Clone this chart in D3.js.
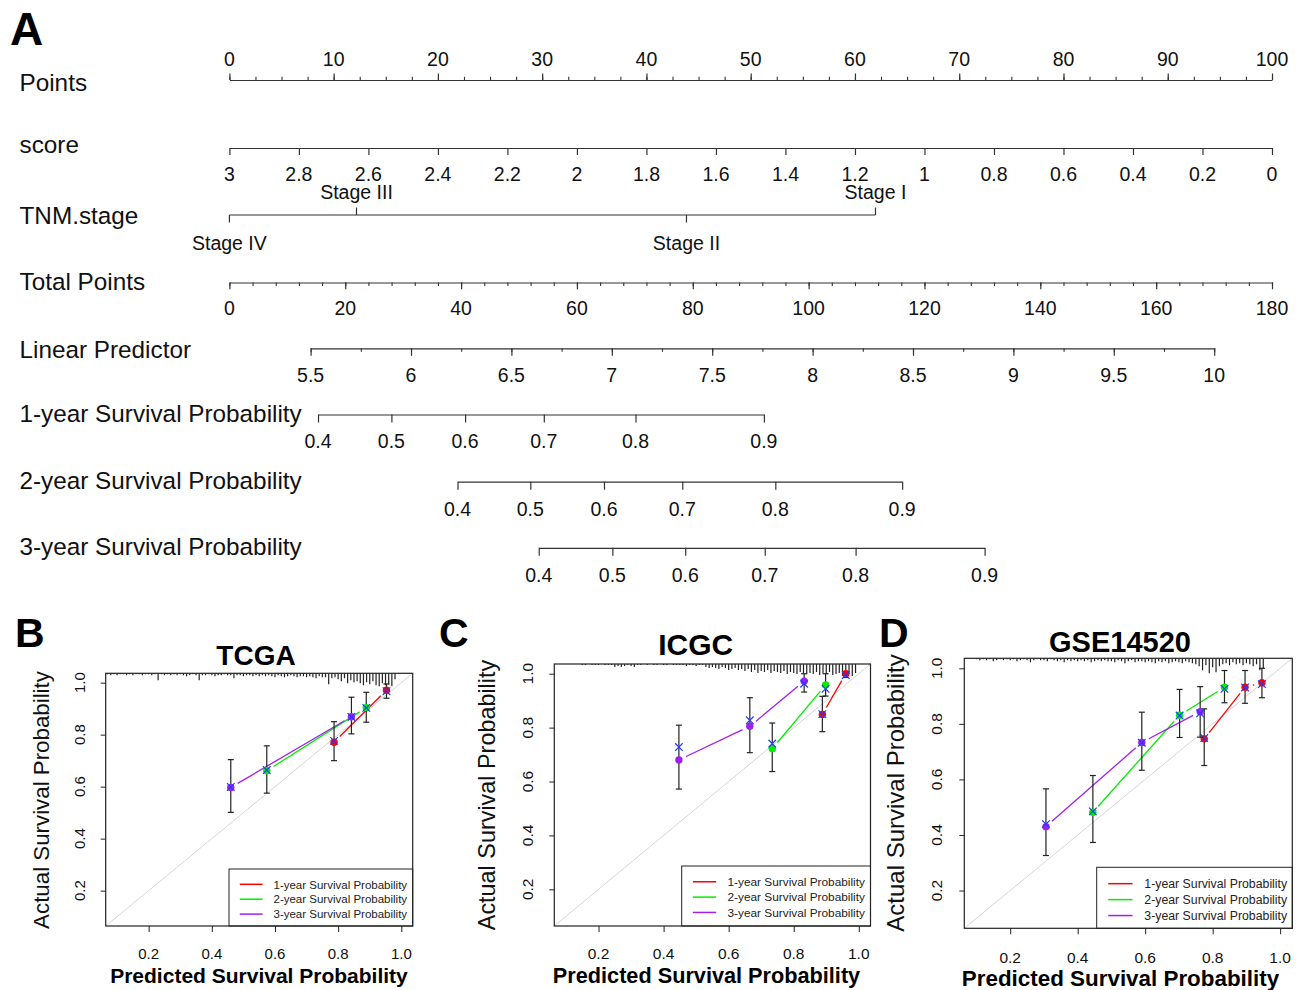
<!DOCTYPE html>
<html><head><meta charset="utf-8">
<script src="https://cdn.jsdelivr.net/npm/d3@7"></script>
<style>body{margin:0;background:#fff}</style>
</head><body><svg id="c" width="1303" height="990"></svg>
<script>
// ---------------- DATA ----------------
// Nomogram
const pointsLabels = [0,10,20,30,40,50,60,70,80,90,100];
const pointsMinor = d3.range(0, 100.001, 2.5);
const scoreLabels = [3,2.8,2.6,2.4,2.2,2,1.8,1.6,1.4,1.2,1,0.8,0.6,0.4,0.2,0];
const tnmStages = ["Stage IV","Stage III","Stage II","Stage I"];
const tnmPoints = [0, 12.19, 43.84, 61.97];
const tnmLabelAbove = [false, true, false, true];
const totalLabels = [0,20,40,60,80,100,120,140,160,180];
const totalMinor = d3.range(0, 180.001, 4);
const lpLabels = [5.5,6,6.5,7,7.5,8,8.5,9,9.5,10];
const lpMinor = d3.range(5.5, 10.001, 0.25);
const lpAnchor = [5.5, 10];
const lpAnchorTotal = [14.02, 170.02];
const survLabels = [0.4,0.5,0.6,0.7,0.8,0.9];
const surv1Total = [15.30, 27.97, 40.69, 54.28, 70.11, 92.28];
const surv2Total = [39.38, 51.95, 64.67, 78.19, 94.25, 116.15];
const surv3Total = [53.40, 66.12, 78.69, 92.42, 108.11, 130.38];
const rowLabels = ["Points","score","TNM.stage","Total Points","Linear Predictor",
  "1-year Survival Probability","2-year Survival Probability","3-year Survival Probability"];

// Calibration
const calTicks = [0.2,0.4,0.6,0.8,1.0];
const calLimits = [0.064, 1.036];
const seriesNames = ["1-year Survival Probability","2-year Survival Probability","3-year Survival Probability"];

const tcga1Pred=[0.787,0.953], tcga1Obs=[0.771,0.971], tcga1Lo=[0.700,0.940], tcga1Hi=[0.850,0.995], tcga1Corr=[0.776,0.967];
const tcga2Pred=[0.574,0.889], tcga2Obs=[0.661,0.904], tcga2Lo=[0.575,0.848], tcga2Hi=[0.757,0.963], tcga2Corr=[0.664,0.903];
const tcga3Pred=[0.460,0.842], tcga3Obs=[0.597,0.869], tcga3Lo=[0.501,0.803], tcga3Hi=[0.704,0.944], tcga3Corr=[0.599,0.868];

const icgc1Pred=[0.888,0.960], icgc1Obs=[0.849,1.000], icgc1Lo=[0.785,0.986], icgc1Hi=[0.916,1.000], icgc1Corr=[0.850,0.995];
const icgc2Pred=[0.734,0.898], icgc2Obs=[0.722,0.958], icgc2Lo=[0.637,0.917], icgc2Hi=[0.817,1.000], icgc2Corr=[0.741,0.944];
const icgc3Pred=[0.447,0.665,0.832], icgc3Obs=[0.680,0.805,0.972], icgc3Lo=[0.572,0.707,0.932], icgc3Hi=[0.809,0.911,1.000], icgc3Corr=[0.728,0.827,0.963];

const gse1Pred=[0.775,0.896,0.946], gse1Obs=[0.746,0.932,0.948], gse1Lo=[0.650,0.874,0.894], gse1Hi=[0.854,0.992,1.000], gse1Corr=[0.749,0.931,0.943];
const gse2Pred=[0.445,0.702,0.835], gse2Obs=[0.482,0.831,0.932], gse2Lo=[0.373,0.751,0.876], gse2Hi=[0.614,0.924,0.992], gse2Corr=[0.485,0.830,0.926];
const gse3Pred=[0.306,0.590,0.763], gse3Obs=[0.430,0.733,0.844], gse3Lo=[0.326,0.633,0.752], gse3Hi=[0.566,0.842,0.934], gse3Corr=[0.439,0.732,0.838];

// Rug (distribution of predicted probabilities), bins of 0.01
const tcgaRugStart = 0.07;
const tcgaRugCounts = [1,2,1,2,1,1,2,1,2,1, 1,2,1,1,2,1,7,1,2,1, 2,1,2,1,2,3,2,1,2,7, 2,2,1,2,3,2,2,1,2,2,
  5,2,2,3,2,2,3,2,3,2, 3,2,3,4,2,3,4,3,2,3, 4,3,3,4,3,4,5,3,4,4, 11,5,4,6,8,5,10,7,9,8, 10,12,9,11,8,12,13,10,12,11,13,6];
const icgcRugStart = 0.15;
const icgcRugCounts = [1,1,0,1,1,1,0,1,1,1, 3,2,3,2,1,2,3,1,1,0, 1,0,1,1,0,1,1,0,1,1, 1,1,2,1,1,2,1,1,3,4,
  3,4,5,3,4,6,5,4,6,5, 7,5,8,6,9,7,8,6,9,7, 8,9,7,10,8,9,10,8,9,10, 9,10,8,11,9,10,8,11,10,9, 12,11,10,12,9];
const gseRugStart = 0.10;
const gseRugCounts = [1,2,1,2,1,3,2,1,2,1, 2,1,3,2,1,2,4,2,1,2, 2,3,1,2,3,2,4,2,3,2, 3,2,3,2,4,3,2,3,2,3,
  3,4,2,3,5,3,2,4,3,3, 4,3,4,5,3,4,3,5,4,3, 4,5,3,4,5,6,8,12,7,15, 9,14,8,6,5,7,4,6,5,7, 5,6,8,6,12,10];

// ---------------- DRAW ----------------
const FONT = '"Liberation Sans", Arial, Helvetica, sans-serif';
const INK = "#333";
const seriesColors = ["#FF0000", "#00EE00", "#A020F0"];
const svg = d3.select("#c").attr("font-family", FONT);
svg.append("rect").attr("width",1303).attr("height",990).attr("fill","#fff");

// ---- Panel A: nomogram ----
svg.append("text").attr("x",10).attr("y",45).attr("font-size",46).attr("font-weight","bold").text("A");

const X0 = 229.4, X1 = 1272;
const xPts = d3.scaleLinear([0,100],[X0,X1]);
const xTot = d3.scaleLinear([0,180],[X0,X1]);
const xScore = d3.scaleLinear([3,0],[X0,X1]);
const lpToTotal = d3.scaleLinear(lpAnchor, lpAnchorTotal);
const xLP = d3.scaleLinear([lpLabels[0], lpLabels[lpLabels.length-1]],
  [xTot(lpToTotal(lpLabels[0])), xTot(lpToTotal(lpLabels[lpLabels.length-1]))]);
const xS1 = d3.scaleLinear(survLabels, surv1Total.map(xTot));
const xS2 = d3.scaleLinear(survLabels, surv2Total.map(xTot));
const xS3 = d3.scaleLinear(survLabels, surv3Total.map(xTot));

const rowBaselines = [90.5, 153, 223.5, 289.5, 358, 421.5, 489, 555];
svg.append("g").selectAll("text").data(rowLabels).join("text")
  .attr("x",19.5).attr("y",(d,i)=>rowBaselines[i]).attr("font-size",24.3).attr("fill","#111").text(d=>d);

function axisRow(scale, y, orient, major, majorLen, minor, minorLen, labels, labelBaseline) {
  const gen = orient === "top" ? d3.axisTop : d3.axisBottom;
  const g = svg.append("g").attr("transform",`translate(0,${y})`);
  g.call(gen(scale).tickValues(major).tickSize(majorLen).tickSizeOuter(0).tickFormat(""));
  if (minor) {
    const g2 = svg.append("g").attr("transform",`translate(0,${y})`);
    g2.call(gen(scale).tickValues(minor).tickSize(minorLen).tickSizeOuter(0).tickFormat(""));
    g2.select(".domain").remove();
    g2.selectAll("line").attr("stroke",INK).attr("stroke-width",1.1);
  }
  g.selectAll("path,line").attr("stroke",INK).attr("stroke-width",1.2);
  svg.append("g").selectAll("text").data(labels).join("text")
    .attr("x",d=>scale(d)).attr("y",labelBaseline).attr("text-anchor","middle")
    .attr("font-size",19.5).attr("fill","#111").text(d=>String(d));
}
axisRow(xPts, 80, "top", pointsLabels, 6.5, pointsMinor, 3.2, pointsLabels, 65.7);
axisRow(xScore, 148, "bottom", scoreLabels, 7, null, 0, scoreLabels, 181.2);
axisRow(xTot, 282.5, "bottom", totalLabels, 6.8, totalMinor, 3.6, totalLabels, 315);
axisRow(xLP, 348.3, "bottom", lpLabels, 7.5, lpMinor, 3.5, lpLabels, 381.7);
axisRow(xS1, 414.5, "bottom", survLabels, 8, null, 0, survLabels, 448.3);
axisRow(xS2, 481.7, "bottom", survLabels, 8, null, 0, survLabels, 515.7);
axisRow(xS3, 547.8, "bottom", survLabels, 8, null, 0, survLabels, 581.7);

// TNM stage row
const tnmY = 215;
const tg = svg.append("g");
tg.append("line").attr("x1",xPts(d3.min(tnmPoints))).attr("x2",xPts(d3.max(tnmPoints)))
  .attr("y1",tnmY).attr("y2",tnmY).attr("stroke",INK).attr("stroke-width",1.2);
tg.selectAll("line.t").data(tnmPoints).join("line").attr("class","t")
  .attr("x1",d=>xPts(d)).attr("x2",d=>xPts(d))
  .attr("y1",tnmY).attr("y2",(d,i)=>tnmLabelAbove[i] ? tnmY-7.5 : tnmY+7.5)
  .attr("stroke",INK).attr("stroke-width",1.2);
tg.selectAll("text").data(tnmStages).join("text")
  .attr("x",(d,i)=>xPts(tnmPoints[i])).attr("y",(d,i)=>tnmLabelAbove[i] ? 199 : 249.5)
  .attr("text-anchor","middle").attr("font-size",19.5).attr("fill","#111").text(d=>d);

// ---- Calibration panels ----
function makeSeries(pred, obs, lo, hi, corr) {
  return pred.map((p,i)=>({pred:p, obs:obs[i], lo:lo[i], hi:hi[i], corr:corr[i]}));
}
const panels = [
  { id:"B", title:"TCGA", box:[105.7,412.7,673.3,926],
    letter:[15,647], titlePos:[256,665,28], ylab:[48.5,800,22.3], xlab:[259,983,21],
    tickFont:15, xTickY:959, yTickX:85, legend:[229,869,1],
    series:[makeSeries(tcga1Pred,tcga1Obs,tcga1Lo,tcga1Hi,tcga1Corr),
            makeSeries(tcga2Pred,tcga2Obs,tcga2Lo,tcga2Hi,tcga2Corr),
            makeSeries(tcga3Pred,tcga3Obs,tcga3Lo,tcga3Hi,tcga3Corr)],
    rugStart:tcgaRugStart, rugCounts:tcgaRugCounts },
  { id:"C", title:"ICGC", box:[554.3,870.5,664,926],
    letter:[439,647], titlePos:[695.7,655,30], ylab:[495,795,23.4], xlab:[706.5,983,21.7],
    tickFont:15.5, xTickY:959, yTickX:533, legend:[681.7,866,1.03],
    series:[makeSeries(icgc1Pred,icgc1Obs,icgc1Lo,icgc1Hi,icgc1Corr),
            makeSeries(icgc2Pred,icgc2Obs,icgc2Lo,icgc2Hi,icgc2Corr),
            makeSeries(icgc3Pred,icgc3Obs,icgc3Lo,icgc3Hi,icgc3Corr)],
    rugStart:icgcRugStart, rugCounts:icgcRugCounts },
  { id:"D", title:"GSE14520", box:[964.3,1292.3,658.3,928.3],
    letter:[879,647], titlePos:[1120,652,29], ylab:[903.5,793,24], xlab:[1120.5,985.5,22.4],
    tickFont:15.5, xTickY:963, yTickX:941.7, legend:[1096.7,867.3,1.07],
    series:[makeSeries(gse1Pred,gse1Obs,gse1Lo,gse1Hi,gse1Corr),
            makeSeries(gse2Pred,gse2Obs,gse2Lo,gse2Hi,gse2Corr),
            makeSeries(gse3Pred,gse3Obs,gse3Lo,gse3Hi,gse3Corr)],
    rugStart:gseRugStart, rugCounts:gseRugCounts }
];

panels.forEach(p => {
  const [bx0,bx1,by0,by1] = p.box;
  const x = d3.scaleLinear(calLimits,[bx0,bx1]);
  const y = d3.scaleLinear(calLimits,[by1,by0]);
  const rugLen = d3.scaleLinear([0,1],[0,1]);
  const g = svg.append("g");
  const clipId = "clip" + p.id;
  svg.append("clipPath").attr("id",clipId).append("rect")
    .attr("x",bx0).attr("y",by0).attr("width",bx1-bx0).attr("height",by1-by0);
  const inner = g.append("g").attr("clip-path",`url(#${clipId})`);

  // diagonal reference line
  inner.append("line").attr("x1",x(calLimits[0])).attr("y1",y(calLimits[0]))
    .attr("x2",x(calLimits[1])).attr("y2",y(calLimits[1]))
    .attr("stroke","#d6d6d6").attr("stroke-width",1);

  // rug
  inner.selectAll("line.rug").data(p.rugCounts).join("line").attr("class","rug")
    .attr("x1",(d,i)=>x(p.rugStart + i*0.01)).attr("x2",(d,i)=>x(p.rugStart + i*0.01))
    .attr("y1",by0).attr("y2",d=>by0 + rugLen(d))
    .attr("stroke","#222").attr("stroke-width",1.2);

  // series
  p.series.forEach((s, si) => {
    const col = seriesColors[si];
    const gap = 8;
    for (let i = 0; i < s.length-1; i++) {
      const ax = x(s[i].pred), ay = y(s[i].obs), bx = x(s[i+1].pred), by = y(s[i+1].obs);
      const L = Math.hypot(bx-ax, by-ay);
      if (L <= 2*gap) continue;
      const ux = (bx-ax)/L, uy = (by-ay)/L;
      inner.append("line").attr("x1",ax+ux*gap).attr("y1",ay+uy*gap)
        .attr("x2",bx-ux*gap).attr("y2",by-uy*gap)
        .attr("stroke",col).attr("stroke-width",1.3);
    }
    // error bars
    s.forEach(d => {
      const cx = x(d.pred);
      g.append("line").attr("x1",cx).attr("x2",cx).attr("y1",y(d.lo)).attr("y2",y(d.hi))
        .attr("stroke","#222").attr("stroke-width",1.2);
      [d.lo, d.hi].forEach(v => g.append("line").attr("x1",cx-3).attr("x2",cx+3)
        .attr("y1",y(v)).attr("y2",y(v)).attr("stroke","#222").attr("stroke-width",1.2));
    });
    // points
    g.selectAll(null).data(s).join("circle")
      .attr("cx",d=>x(d.pred)).attr("cy",d=>y(d.obs)).attr("r",3.7).attr("fill",col);
    // bias-corrected estimates (blue x)
    s.forEach(d => {
      const cx = x(d.pred), cy = y(d.corr), h = 3.8;
      g.append("path").attr("d",`M${cx-h},${cy-h}L${cx+h},${cy+h}M${cx-h},${cy+h}L${cx+h},${cy-h}`)
        .attr("stroke","#1f3dff").attr("stroke-width",1.2).attr("fill","none");
    });
  });

  // axes
  const ax = g.append("g").attr("transform",`translate(0,${by1})`)
    .call(d3.axisBottom(x).tickValues(calTicks).tickSize(6).tickFormat(""));
  ax.select(".domain").remove();
  ax.selectAll("line").attr("stroke","#222");
  const ay = g.append("g").attr("transform",`translate(${bx0},0)`)
    .call(d3.axisLeft(y).tickValues(calTicks).tickSize(5).tickFormat(""));
  ay.select(".domain").remove();
  ay.selectAll("line").attr("stroke","#222");
  g.selectAll(null).data(calTicks).join("text")
    .attr("x",d=>x(d)).attr("y",p.xTickY).attr("text-anchor","middle")
    .attr("font-size",p.tickFont).attr("fill","#111").text(d=>d3.format(".1f")(d));
  g.selectAll(null).data(calTicks).join("text")
    .attr("transform",d=>`translate(${p.yTickX},${y(d)}) rotate(-90)`).attr("text-anchor","middle")
    .attr("font-size",p.tickFont).attr("fill","#111").text(d=>d3.format(".1f")(d));

  // legend
  const [lx, ly, s] = p.legend;
  const lg = g.append("g");
  lg.append("rect").attr("x",lx).attr("y",ly).attr("width",bx1-lx).attr("height",by1-ly)
    .attr("fill","#fff").attr("stroke","#222").attr("stroke-width",1);
  seriesNames.forEach((name, i) => {
    const yy = ly + (15.3 + 14.9*i)*s;
    lg.append("line").attr("x1",lx+10.8*s).attr("x2",lx+33.5*s).attr("y1",yy).attr("y2",yy)
      .attr("stroke",seriesColors[i]).attr("stroke-width",1.5);
    lg.append("text").attr("x",lx+44.5*s).attr("y",yy+4.2*s).attr("font-size",11.5*s)
      .attr("fill","#222").text(name);
  });

  // box
  g.append("rect").attr("x",bx0).attr("y",by0).attr("width",bx1-bx0).attr("height",by1-by0)
    .attr("fill","none").attr("stroke","#222").attr("stroke-width",1.2);

  // titles
  g.append("text").attr("x",p.letter[0]).attr("y",p.letter[1]).attr("font-size",41)
    .attr("font-weight","bold").text(p.id);
  g.append("text").attr("x",p.titlePos[0]).attr("y",p.titlePos[1]).attr("font-size",p.titlePos[2])
    .attr("font-weight","bold").attr("text-anchor","middle").text(p.title);
  g.append("text").attr("transform",`translate(${p.ylab[0]},${p.ylab[1]}) rotate(-90)`)
    .attr("font-size",p.ylab[2]).attr("text-anchor","middle").attr("fill","#111")
    .text("Actual Survival Probability");
  g.append("text").attr("x",p.xlab[0]).attr("y",p.xlab[1]).attr("font-size",p.xlab[2])
    .attr("font-weight","bold").attr("text-anchor","middle").text("Predicted Survival Probability");
});
</script>
</body></html>
